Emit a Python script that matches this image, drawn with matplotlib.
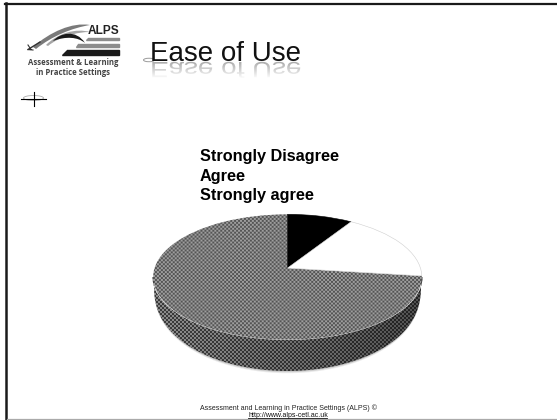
"""Slide with a 3D looking pie chart, Ease of Use."""

import matplotlib

matplotlib.use("Agg")
import matplotlib.pyplot as plt
import numpy as np
from matplotlib.font_manager import FontProperties
from matplotlib.patches import Ellipse, PathPatch, Polygon
from matplotlib.path import Path
from matplotlib.textpath import TextPath
from matplotlib.transforms import Affine2D

W, H = 557, 420

TITLE = "Ease of Use"
LEGEND_LABELS = ["Strongly Disagree", "Agree", "Strongly agree"]
SHARES = [9, 18, 73]
FOOTER = "Assessment and Learning in Practice Settings (ALPS) ©"
FOOTER_URL = "http://www.alps-cetl.ac.uk"

FONT = "Liberation Sans"
PIE_BOX = (152.5, 214, 270, 126)  # left, top, width, height in pixels
APEX_SHIFT = 0.143  # apex sits above the ellipse centre
DEPTH = 31


def checker(height, width, low, high):
    yy, xx = np.mgrid[0:height, 0:width]
    cells = (xx // 2 + yy // 2) % 2
    return low + (high - low) * cells


def tilt(vertices):
    # projective map that keeps the unit circle and moves the centre up
    x, y = vertices[:, 0], vertices[:, 1]
    a = APEX_SHIFT
    w = 1 + a * y
    return np.column_stack((x * np.sqrt(1 - a * a) / w, (y + a) / w))


def band_outline(extra):
    left, top, width, height = PIE_BOX
    cx, cy = left + width / 2, top + height / 2
    t = np.linspace(np.pi, 0, 120)
    upper_x = cx + width / 2 * np.cos(t)
    upper_y = cy + height / 2 * np.sin(t)
    # the lower rim tapers in at both ends so the corners look rounded
    taper = 1 - 0.012 * (1 - np.sin(t)) ** 3
    lower_x = cx + (upper_x - cx) * taper
    lower_y = upper_y + (DEPTH + extra) * np.sin(t) ** 0.45
    return np.concatenate(
        (
            np.column_stack((upper_x, upper_y)),
            np.column_stack((lower_x[::-1], lower_y[::-1])),
        )
    )


def draw_side(ax):
    left, top, width, height = PIE_BOX
    cy = top + height / 2

    # soft blurred rim under the side wall
    for extra, alpha in ((2.2, 0.12), (1.2, 0.2)):
        ax.add_patch(Polygon(band_outline(extra), closed=True, fc="#555555", ec="none", alpha=alpha, zorder=1))

    x0, x1 = int(left), int(left + width) + 1
    y0, y1 = int(cy), int(top + height + DEPTH) + 2
    tex = checker(y1 - y0, x1 - x0, 0.22, 0.52)
    shade = np.interp(np.arange(x1 - x0), [0, 50, 170, x1 - x0], [1.05, 1.0, 0.8, 0.6])
    img = ax.imshow(
        tex * shade,
        cmap="gray",
        vmin=0,
        vmax=1,
        extent=(x0, x1, y1, y0),
        interpolation="bilinear",
        aspect="auto",
        zorder=2,
    )
    patch = Polygon(band_outline(0), closed=True, transform=ax.transData, fc="none", ec="none")
    ax.add_patch(patch)
    img.set_clip_path(patch)


def draw_pie(fig):
    left, top, width, height = PIE_BOX
    ax = fig.add_axes([left / W, 1 - (top + height) / H, width / W, height / H])
    ax.patch.set_alpha(0)
    wedges, _ = ax.pie(
        SHARES,
        startangle=90,
        counterclock=False,
        radius=1,
        colors=["black", "white", "none"],
    )
    ax.set_aspect("auto")
    ax.set_xlim(-1, 1)
    ax.set_ylim(-1, 1)

    tex = checker(int(height) + 2, int(width) + 2, 0.33, 0.62)
    for wedge, style in zip(wedges, ("black", "white", "texture")):
        path = wedge.get_path()
        path = Path(tilt(path.vertices), path.codes)
        wedge.remove()
        if style == "texture":
            patch = PathPatch(path, fc="none", ec="none")
            ax.add_patch(patch)
            img = ax.imshow(
                tex,
                cmap="gray",
                vmin=0,
                vmax=1,
                extent=(-1, 1, -1, 1),
                interpolation="bilinear",
                aspect="auto",
            )
            img.set_clip_path(patch)
        else:
            edge = "#cfcfcf" if style == "white" else "black"
            ax.add_patch(PathPatch(path, fc=style, ec=edge, lw=0.4))
    ax.set_xlim(-1.005, 1.005)
    ax.set_ylim(-1.005, 1.005)
    ax.axis("off")


def draw_title(ax):
    ax.text(150, 61, TITLE, family=FONT, fontsize=20.0, color="#111111", ha="left", va="baseline", zorder=5)
    # faded reflection below the baseline
    prop = FontProperties(family=FONT, size=27.8)
    text_path = TextPath((0, 0), TITLE, prop=prop)
    flip = Affine2D().scale(1, 0.8).translate(150, 62) + ax.transData
    reflection = PathPatch(text_path, fc="#9a9a9a", ec="none", transform=flip, zorder=3)
    ax.add_patch(reflection)
    fade = np.linspace(0.2, 1, 16)[:, None] * np.ones((16, 4))
    fade = np.dstack((np.ones((16, 4, 3)), fade))
    ax.imshow(fade, extent=(145, 310, 79, 62), aspect="auto", zorder=4, interpolation="bilinear")
    ax.add_patch(Ellipse((149, 60), 11, 3.5, fc="none", ec="#999999", lw=0.7, zorder=2))


def draw_logo(ax):
    grey = "#8c8c8c"
    ax.text(119.5, 34.5, "ALPS", family=FONT, weight="bold", fontsize=8.6, ha="right", va="baseline", color="#222222")
    ax.fill([88, 119, 119, 86], [37.5, 37.5, 40, 40], color=grey)
    ax.fill([78, 119, 119, 76], [44, 44, 47, 47], color=grey)
    ax.fill([67, 119, 119, 62], [50, 50, 54.5, 54.5], color="#1a1a1a")

    curve = [Path.MOVETO] + [Path.CURVE4] * 6 + [Path.CLOSEPOLY]
    swoosh = Path(
        [(33, 47), (50, 32), (72, 22), (90, 25), (72, 28), (52, 36), (36, 49), (33, 47)],
        curve,
    )
    ax.add_patch(PathPatch(swoosh, fc="#7a7a7a", ec="none"))
    light = Path(
        [(46, 45), (58, 33), (76, 28), (90, 32), (78, 32), (60, 36), (48, 46), (46, 45)],
        curve,
    )
    ax.add_patch(PathPatch(light, fc="#a5a5a5", ec="none"))
    dark = Path(
        [(53, 41), (60, 33), (76, 29), (85, 43), (78, 37), (66, 36), (53, 41), (53, 41)],
        curve,
    )
    ax.add_patch(PathPatch(dark, fc="#1a1a1a", ec="none"))
    ax.plot([28, 40], [49.5, 42], color="#333333", lw=1)
    ax.plot([28, 31, 28, 33], [45, 49.5, 49.5, 50], color="#333333", lw=0.8)

    ax.text(73, 65, "Assessment & Learning", family="Open Sans", weight="bold", fontsize=5.6, ha="center", va="baseline", color="#444444")
    ax.text(73, 75, "in Practice Settings", family="Open Sans", weight="bold", fontsize=5.6, ha="center", va="baseline", color="#444444")


def main():
    fig = plt.figure(figsize=(W / 100, H / 100), dpi=100, facecolor="white")
    ax = fig.add_axes([0, 0, 1, 1])
    ax.set_xlim(0, W)
    ax.set_ylim(H, 0)
    ax.axis("off")

    # slide frame
    ax.plot([5.8, 5.8], [H, 3], color="#1a1a1a", lw=1.8)
    ax.plot([5, W], [4, 4], color="#1a1a1a", lw=1.6)
    ax.plot([7, W], [419.4, 419.4], color="#aaaaaa", lw=0.9)

    draw_logo(ax)
    draw_title(ax)

    # stray drawing marks left on the slide
    ax.plot([21, 46], [98.5, 98.5], color="black", lw=0.8)
    ax.plot([33.5, 33.5], [92, 106], color="black", lw=0.8)
    ax.add_patch(Ellipse((33.5, 98), 20, 5, fc="none", ec="#aaaaaa", lw=0.6))

    for label, y in zip(LEGEND_LABELS, (160.5, 180.5, 200)):
        ax.text(200, y, label, family=FONT, weight="bold", fontsize=11.7, ha="left", va="baseline", color="black")

    draw_side(ax)
    ax.set_xlim(0, W)
    ax.set_ylim(H, 0)
    draw_pie(fig)

    ax.text(289, 410.5, FOOTER, family=FONT, fontsize=5, ha="center", va="baseline", color="#222222")
    ax.text(288, 417.3, FOOTER_URL, family=FONT, fontsize=5, ha="center", va="baseline", color="#111111")
    ax.plot([248, 327], [418.3, 418.3], color="#111111", lw=0.6)

    fig.savefig("out.png", dpi=100)
    plt.close(fig)


if __name__ == "__main__":
    main()
